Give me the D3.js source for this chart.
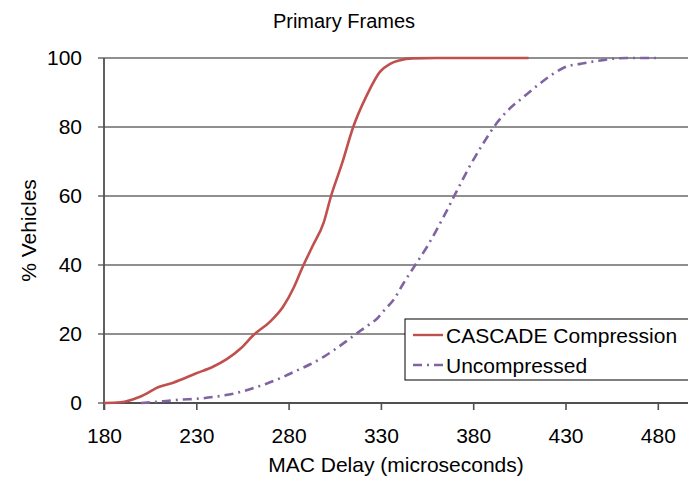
<!DOCTYPE html>
<html>
<head>
<meta charset="utf-8">
<script src="https://cdn.jsdelivr.net/npm/d3@7"></script>
<style>
	body { margin: 0; background: #fff; }
	svg text { font-family: "Liberation Sans", Arial, sans-serif; fill: #000; }
</style>
</head>
<body>
<svg id="chart" width="688" height="487"></svg>
<script>
// values
const xTicks = [180, 230, 280, 330, 380, 430, 480];
const yTicks = [0, 20, 40, 60, 80, 100];

const cascadeDelay = [180, 189, 199.5, 210, 217.5, 230, 239, 246.5, 254, 261, 270, 277, 283, 287, 293, 299, 303, 309, 315, 322, 329.5, 335, 340, 347, 360, 380, 410];
const cascadePct = [0, 0.2, 1.8, 4.7, 5.9, 8.6, 10.5, 12.7, 15.8, 19.7, 23.6, 27.9, 33.7, 38.7, 45.5, 52.3, 60, 69.5, 80, 88.8, 96, 98.3, 99.3, 99.9, 100, 100, 100];

const uncompDelay = [200, 212, 222, 230, 240, 250, 259, 268, 276, 284, 292, 299, 305, 311, 317, 323, 328, 332, 337, 342, 348, 355, 364, 370, 378, 385.5, 392, 398, 407, 414, 423, 431, 438, 449, 456, 463, 480];
const uncompPct = [0, 0.5, 1.0, 1.2, 1.8, 2.7, 4, 5.6, 7.3, 9.3, 11.3, 13.4, 15.5, 17.8, 20.2, 22.5, 24.5, 27, 30, 34.5, 39.5, 45.3, 54, 60.3, 68.5, 75.3, 80.6, 84.4, 88.6, 91.7, 95.3, 97.6, 98.3, 99.3, 99.8, 100, 100];

const seriesNames = ['CASCADE Compression', 'Uncompressed'];
const seriesColors = ['#C0504D', '#8064A2'];

const svg = d3.select('#chart');
const plotLeft = 104, plotRight = 688, plotTop = 58, plotBottom = 403;
const fontFamily = '"Liberation Sans", Arial, sans-serif';

// 480 sits at 657.8; the axis keeps running to the picture edge
let x = d3.scaleLinear().domain([180, 480]).range([plotLeft, 657.8]);
let y = d3.scaleLinear().domain([0, 100]).range([plotBottom, plotTop]);

// gridlines
svg.append('g')
	.selectAll('line')
	.data(yTicks)
	.enter().append('line')
	.attr('x1', plotLeft - 6).attr('x2', plotRight)
	.attr('y1', d => y(d)).attr('y2', d => y(d))
	.attr('stroke', '#6a6a6a').attr('stroke-width', 1.7);

// y axis
let yAxis = svg.append('g')
	.attr('transform', `translate(${plotLeft},0)`)
	.call(d3.axisLeft(y).tickValues(yTicks).tickSize(0).tickPadding(22));
yAxis.select('.domain').remove();
yAxis.selectAll('text').attr('font-size', 21).style('font-family', fontFamily);
svg.append('line')
	.attr('x1', plotLeft).attr('x2', plotLeft).attr('y1', plotTop).attr('y2', plotBottom + 7)
	.attr('stroke', '#505050').attr('stroke-width', 1.8);

// x axis
let xAxis = svg.append('g')
	.attr('transform', `translate(0,${plotBottom})`)
	.call(d3.axisBottom(x).tickValues(xTicks).tickSize(7).tickPadding(18));
xAxis.select('.domain').remove();
xAxis.selectAll('.tick line').attr('stroke', '#505050').attr('stroke-width', 1.6);
xAxis.selectAll('text').attr('font-size', 21).style('font-family', fontFamily);
svg.append('line')
	.attr('x1', plotLeft).attr('x2', plotRight).attr('y1', plotBottom).attr('y2', plotBottom)
	.attr('stroke', '#505050').attr('stroke-width', 1.8);

// curves
let line = d3.line()
	.x(d => x(d[0]))
	.y(d => y(d[1]))
	.curve(d3.curveMonotoneX);

svg.append('path')
	.datum(uncompDelay.map((d, i) => [d, uncompPct[i]]))
	.attr('d', line)
	.attr('fill', 'none')
	.attr('stroke', seriesColors[1]).attr('stroke-width', 2.6)
	.attr('stroke-dasharray', '9,5,2,5');

svg.append('path')
	.datum(cascadeDelay.map((d, i) => [d, cascadePct[i]]))
	.attr('d', line)
	.attr('fill', 'none')
	.attr('stroke', seriesColors[0]).attr('stroke-width', 2.6);

// titles
svg.append('text')
	.attr('x', 344).attr('y', 28)
	.attr('text-anchor', 'middle').attr('font-size', 20)
	.text('Primary Frames');

svg.append('text')
	.attr('x', 396).attr('y', 472)
	.attr('text-anchor', 'middle').attr('font-size', 21)
	.text('MAC Delay (microseconds)');

svg.append('text')
	.attr('transform', `translate(36,${(plotTop + plotBottom) / 2}) rotate(-90)`)
	.attr('text-anchor', 'middle').attr('font-size', 21)
	.text('% Vehicles');

// legend
let legend = svg.append('g').attr('transform', 'translate(405,319)');
legend.append('rect')
	.attr('x', 0).attr('y', 0).attr('width', 290).attr('height', 61)
	.attr('fill', '#fff').attr('stroke', '#000').attr('stroke-width', 1);
let rows = legend.selectAll('.row')
	.data(seriesNames)
	.enter().append('g')
	.attr('class', 'row')
	.attr('transform', (d, i) => `translate(0,${16 + i * 30})`);
rows.append('line')
	.attr('x1', 8).attr('x2', 38).attr('y1', 0).attr('y2', 0)
	.attr('stroke', (d, i) => seriesColors[i]).attr('stroke-width', 2.4)
	.attr('stroke-dasharray', (d, i) => i === 1 ? '9,5,2,5' : null);
rows.append('text')
	.attr('x', 41).attr('y', 8)
	.attr('font-size', 21)
	.text(d => d);
</script>
</body>
</html>
